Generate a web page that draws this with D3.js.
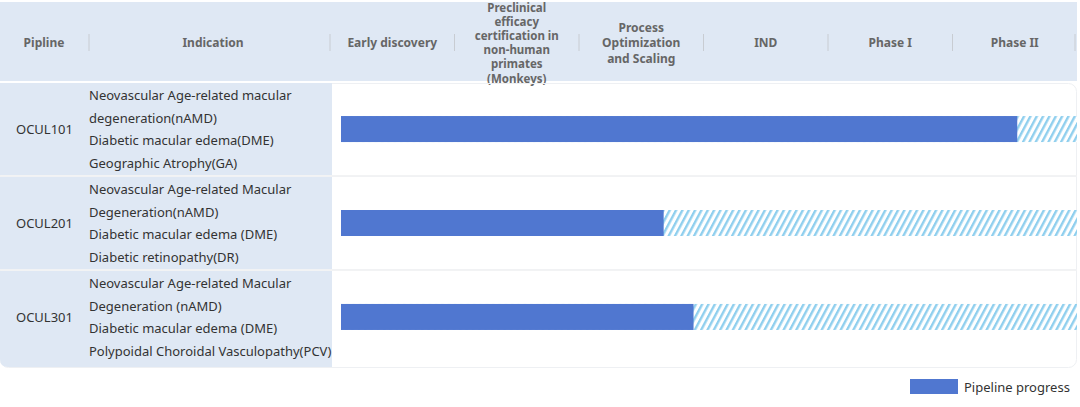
<!DOCTYPE html>
<html>
<head>
<meta charset="utf-8">
<script src="https://cdn.jsdelivr.net/npm/d3@7"></script>
<style>
  body { margin: 0; background: #fff; }
  svg { display: block; font-family: "Noto Sans", "Open Sans", sans-serif; }
</style>
</head>
<body>
<svg id="chart" width="1080" height="407"></svg>
<script>
// Pipeline table data
const pipelines = ["OCUL101", "OCUL201", "OCUL301"];
const indications = [
    ["Neovascular Age-related macular", "degeneration(nAMD)", "Diabetic macular edema(DME)", "Geographic Atrophy(GA)"],
    ["Neovascular Age-related Macular", "Degeneration(nAMD)", "Diabetic macular edema (DME)", "Diabetic retinopathy(DR)"],
    ["Neovascular Age-related Macular", "Degeneration (nAMD)", "Diabetic macular edema (DME)", "Polypoidal Choroidal Vasculopathy(PCV)"]
];
const stages = [
    ["Early discovery"],
    ["Preclinical", "efficacy", "certification in", "non-human", "primates", "(Monkeys)"],
    ["Process", "Optimization", "and Scaling"],
    ["IND"],
    ["Phase I"],
    ["Phase II"]
];
// progress measured in stage units (0 = start of Early discovery)
const progress = [5.52, 2.68, 2.92];
const legendLabel = "Pipeline progress";

const svg = d3.select("#chart");
const blue = "#5077d0";
const cellBg = "#dfe8f4";
const tableBottom = 367;

const x = d3.scaleLinear().domain([0, stages.length]).range([330, 1077]);
const y = d3.scaleBand().domain(pipelines).range([83, 363]).paddingInner(0.02);

// hatch pattern for remaining part
const defs = svg.append("defs");
const pat = defs.append("pattern")
    .attr("id", "hatch")
    .attr("patternUnits", "userSpaceOnUse")
    .attr("width", 5.6).attr("height", 6)
    .attr("patternTransform", "rotate(28)");
pat.append("rect").attr("width", 5.6).attr("height", 6).attr("fill", "#fff");
pat.append("rect").attr("width", 2.4).attr("height", 6).attr("fill", "#8fcfee");

// header band
svg.append("rect")
    .attr("x", 0).attr("y", 2)
    .attr("width", 1077).attr("height", 79)
    .attr("fill", cellBg);

const headerCols = [
    { label: ["Pipline"], cx: 44, sep: 89 },
    { label: ["Indication"], cx: 213, sep: 330 }
].concat(stages.map((s, i) => ({
    label: s,
    cx: x(i + 0.5),
    sep: x(i + 1) - (i === stages.length - 1 ? 2 : 0)
})));

const head = svg.append("g");
headerCols.forEach(c => {
    const lh = c.label.length > 3 ? 14.2 : 15.5;
    const t = head.append("text")
        .attr("x", c.cx)
        .attr("y", 42 - (c.label.length - 1) * lh / 2)
        .attr("text-anchor", "middle")
        .attr("dominant-baseline", "central")
        .attr("font-size", c.label.length > 3 ? 11.5 : 12)
        .attr("font-weight", "bold")
        .attr("fill", "#666");
    c.label.forEach((l, i) => {
        t.append("tspan").attr("x", c.cx).attr("dy", i === 0 ? 0 : lh).text(l);
    });
    head.append("line")
        .attr("x1", c.sep).attr("x2", c.sep)
        .attr("y1", 34).attr("y2", 51)
        .attr("stroke", "#c8ccd2").attr("stroke-width", 1);
});

// table outline (faint)
svg.append("rect")
    .attr("x", 0.5).attr("y", 83.5)
    .attr("width", 1076).attr("height", tableBottom - 83)
    .attr("rx", 8)
    .attr("fill", "none")
    .attr("stroke", "#eef0f3");

// rows
const rows = svg.selectAll(".row")
    .data(pipelines)
    .enter().append("g")
    .attr("class", "row");

// left cells (last one runs to the table bottom, rounded corner)
rows.append("path")
    .attr("d", (d, i) => {
        const y0 = y(d), w = 332;
        if (i === pipelines.length - 1) {
            const r = 8, y1 = tableBottom;
            return `M0,${y0}H${w}V${y1}H${r}Q0,${y1} 0,${y1 - r}Z`;
        }
        return `M0,${y0}H${w}V${y0 + y.bandwidth()}H0Z`;
    })
    .attr("fill", cellBg);

// row separators
rows.filter((d, i) => i < pipelines.length - 1)
    .append("rect")
    .attr("x", 0).attr("width", 1077)
    .attr("y", d => y(d) + y.bandwidth())
    .attr("height", y.step() - y.bandwidth())
    .attr("fill", "#f1f2f4");

rows.append("text")
    .attr("x", 16)
    .attr("y", d => y(d) + y.bandwidth() / 2)
    .attr("dominant-baseline", "central")
    .attr("font-size", 13)
    .attr("fill", "#333")
    .text(d => d);

rows.each(function(d, i) {
    const g = d3.select(this);
    const cy = y(d) + y.bandwidth() / 2;
    const lines = indications[i];
    const lh = 22.6;
    lines.forEach((l, j) => {
        g.append("text")
            .attr("x", 89)
            .attr("y", cy + (j - (lines.length - 1) / 2) * lh)
            .attr("dominant-baseline", "central")
            .attr("font-size", 13)
            .attr("fill", "#333")
            .text(l);
    });
});

// bars
const barH = 26;
rows.append("rect")
    .attr("x", d => x(0) + 11)
    .attr("y", d => y(d) + y.bandwidth() / 2 - barH / 2)
    .attr("width", (d, i) => x(stages.length) - x(0) - 11)
    .attr("height", barH)
    .attr("fill", "url(#hatch)");

rows.append("rect")
    .attr("x", d => x(0) + 11)
    .attr("y", d => y(d) + y.bandwidth() / 2 - barH / 2)
    .attr("width", (d, i) => x(progress[i]) - x(0) - 11)
    .attr("height", barH)
    .attr("fill", blue);

// legend
const legend = svg.append("g").attr("transform", "translate(910,379)");
legend.append("rect").attr("width", 48).attr("height", 15).attr("fill", blue);
legend.append("text")
    .attr("x", 54).attr("y", 8)
    .attr("dominant-baseline", "central")
    .attr("font-size", 13)
    .attr("fill", "#333")
    .text(legendLabel);
</script>
</body>
</html>
